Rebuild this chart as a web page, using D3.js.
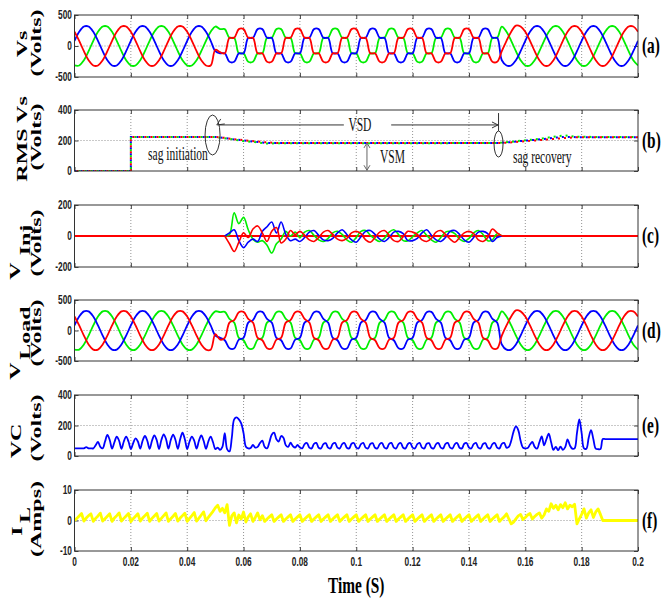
<!DOCTYPE html>
<html><head><meta charset="utf-8">
<script src="https://cdn.jsdelivr.net/npm/d3@7"></script>
<style>body{margin:0;background:#fff}</style>
</head><body>
<svg id="chart" width="661" height="601"></svg>
<script>
// ---------------- DATA ----------------
const stepV = 1/600;   // sample step (s) for Vs, VInj, VLoad
const stepF = 1/1200;  // sample step (s) for VC, IL
const xTicks = [0,0.02,0.04,0.06,0.08,0.1,0.12,0.14,0.16,0.18,0.2];
const xTickLabels = ["0","0.02","0.04","0.06","0.08","0.1","0.12","0.14","0.16","0.18","0.2"];

// supply voltage, healthy parts (before sag: samples 0..30, after sag: 91..120)
const srcRedPre = [230,84,-84,-230,-314,-314,-230,-84,84,230,314,314,
  230,84,-84,-230,-314,-314,-230,-84,84,230,314,314,
  230,84,-84,-230,-314,-314,-60];
const srcBluePre = [84,230,314,314,230,84,-84,-230,-314,-314,-230,-84,
  84,230,314,314,230,84,-84,-230,-314,-314,-230,-84,
  84,230,314,314,230,84,-84];
const srcGreenPre = [-314,-314,-230,-84,84,230,314,314,230,84,-84,-230,
  -314,-314,-230,-84,84,230,314,314,230,84,-84,-230,
  -314,-314,-230,-84,84,230,314];
const srcRedPost = [-84,84,230,330,314,
  230,84,-84,-230,-314,-314,-230,-84,84,230,314,314,
  230,84,-84,-230,-314,-314,-230,-84,84,230,314,314,230];
const srcBluePost = [-230,-314,-314,-230,-84,
  84,230,314,314,230,84,-84,-230,-314,-314,-230,-84,
  84,230,314,314,230,84,-84,-230,-314,-314,-230,-84,84];
const srcGreenPost = [314,230,84,-84,-230,
  -314,-314,-230,-84,84,230,314,314,230,84,-84,-230,
  -314,-314,-230,-84,84,230,314,314,230,84,-84,-230,-314];

// supply voltage during sag (samples 31..90)
const vsRedSag = [-100,-118,132,132,272,272,132,132,-118,-118,-255,-255,
  -118,-118,132,132,272,272,132,132,-118,-118,-255,-255,
  -118,-118,132,132,272,272,132,132,-118,-118,-255,-255,
  -118,-118,132,132,272,272,132,132,-118,-118,-255,-255,
  -118,-118,132,132,272,272,132,132,-118,-118,-255,-255];
const vsBlueSag = [-118,-118,-255,-255,-118,-118,132,132,272,272,132,132,
  -118,-118,-255,-255,-118,-118,132,132,272,272,132,132,
  -118,-118,-255,-255,-118,-118,132,132,272,272,132,132,
  -118,-118,-255,-255,-118,-118,132,132,272,272,132,132,
  -118,-118,-255,-255,-118,-118,132,132,272,272,132,132];
const vsGreenSag = [272,272,132,132,-118,-118,-255,-255,-118,-118,132,132,
  272,272,132,132,-118,-118,-255,-255,-118,-118,132,132,
  272,272,132,132,-118,-118,-255,-255,-118,-118,132,132,
  272,272,132,132,-118,-118,-255,-255,-118,-118,132,132,
  272,272,132,132,-118,-118,-255,-255,-118,-118,132,132];

// load voltage during sag (samples 31..90)
const vlRedSag = [-150,-120,130,170,300,305,190,130,-120,-160,-290,-295,
  -150,-120,130,170,300,305,190,130,-120,-160,-290,-295,
  -150,-120,130,170,300,305,190,130,-120,-160,-290,-295,
  -150,-120,130,170,300,305,190,130,-120,-160,-290,-295,
  -150,-120,130,170,300,305,190,130,-120,-160,-290,-295];
const vlBlueSag = [-120,-160,-290,-295,-150,-120,130,170,300,305,190,130,
  -120,-160,-290,-295,-150,-120,130,170,300,305,190,130,
  -120,-160,-290,-295,-150,-120,130,170,300,305,190,130,
  -120,-160,-290,-295,-150,-120,130,170,300,305,190,130,
  -120,-160,-290,-295,-150,-120,130,170,300,305,190,130];
const vlGreenSag = [300,305,190,130,-120,-160,-290,-295,-150,-120,130,170,
  300,305,190,130,-120,-160,-290,-295,-150,-120,130,170,
  300,305,190,130,-120,-160,-290,-295,-150,-120,130,170,
  300,305,190,130,-120,-160,-290,-295,-150,-120,130,170,
  300,305,190,130,-120,-160,-290,-295,-150,-120,130,170];

// injected voltage (samples 32..91), zero elsewhere
const vinjStart = 32;
const vinjRed = [0,-50,-100,-40,20,-10,45,65,20,-35,30,55,-45,-20,35,10,
  30,5,-25,-35,-10,25, 35,10,-20,-30,-15,20, 30,15,-25,-40,-10,25,
  35,5,-30,-35,-5,30, 25,10,-25,-35,-15,25, 35,10,-20,-40,-10,20,
  30,15,-25,-35,-10,45, 20,0];
const vinjBlue = [0,20,40,-30,-75,-40,-20,-35,30,60,90,20,90,10,-30,-20,
  -35,-10,25,35,5,-25, -30,-15,20,40,10,-25, -40,-5,30,35,10,-20,
  -35,-10,25,30,15,-30, -30,-15,20,40,5,-25, -35,-10,30,35,10,-25,
  -40,-10,25,30,15,-35, -10,0];
const vinjGreen = [0,10,150,80,120,40,-20,-40,-30,-60,-110,-50,-20,30,0,25,
  -10,25,35,5,-25,-35, -15,20,30,10,-25,-40, -10,30,35,5,-20,-35,
  -15,25,40,10,-30,-30, -5,20,35,5,-25,-40, -10,25,30,15,-20,-35,
  -15,20,35,10,-30,-25, 15,0];

// RMS of supply voltage
const rmsTime  = [0,0.02,0.02,0.05,0.053,0.056,0.06,0.064,0.068,0.072,0.15,0.154,0.158,0.162,0.166,0.17,0.174,0.178,0.2];
const rmsRed   = [0,0,223,223,218,210,202,195,188,183,183,186,192,198,204,210,216,221,222];
const rmsGreen = [0,0,223,223,216,208,196,190,180,182,183,190,198,205,213,225,234,224,223];
const rmsBlue  = [0,0,223,223,217,209,200,192,184,183,183,188,196,202,209,218,224,222,222];

// capacitor voltage VC (samples 0..240)
const vcValues = [50,50,50,50,50,58,50,50,50,70,
  92,60,50,
  95,138,105,48, 90,127,100,47, 95,127,95,46, 85,116,95,48,
  100,131,100,47, 100,135,105,46, 105,142,110,48, 105,140,105,47,
  110,153,110,46, 95,127,100,48, 100,135,100,47, 95,127,90,45,
  55,40,60,150,45,30,
  120,240,253,240,214,150,61,50,52,
  72,55,60,85,100,60,50,90,140,153,110,95,131,120,70,60,87,65,55,72,55,
  50,78,85,55, 50,80,86,54, 50,78,84,55, 50,79,86,55, 50,78,85,54, 50,80,85,55,
  50,78,86,55, 50,79,84,54, 50,78,85,55, 50,80,86,55, 50,78,85,54, 50,79,85,55,
  50,78,86,55, 50,80,84,54, 50,78,85,55, 50,79,86,55, 50,78,85,54, 50,80,85,55,
  50,78,86,55, 50,79,84,54, 50,78,85,55, 50,80,86,55,
  60,100,160,194,170,100,55,50,52,75,92,60,48,90,129,70,110,146,90,
  40,60,38,62,40,58,
  109,70,48,50,150,240,150,50,48,120,170,110,48,45,45,
  111,111,111,111,111,111,111,111,111,111,111,111,111,111,111,111];

// load current IL (samples 0..240)
const ilValues = [0,0.7,1.5,2.3, -0.2,0.8,1.6,2.2, -0.3,0.7,1.5,2.4, -0.2,0.6,1.4,2.2,
  -0.3,0.8,1.6,2.5, -0.2,0.7,1.5,2.3, -0.4,0.6,1.4,2.2, -0.2,0.8,1.6,2.4,
  -0.3,0.7,1.5,2.3, -0.2,0.7,1.6,2.5, -0.3,0.6,1.4,2.3, -0.2,0.8,1.6,2.4,
  -0.3,0.7,1.6,2.6, -0.2,0.8,1.8,2.8, -0.1,1.0,2.0,3.0,
  4.2,5.0,3.0,4.0,2.5,5.2,-1.6,
  1.5,2.5,-0.8,1.8,0.5,2.8,-0.5,1.2,2.2,-0.3,1.0,2.5,0.2,1.6,
  -0.3,0.5,1.2,1.9, -0.3,0.5,1.2,1.9, -0.3,0.5,1.2,1.9, -0.3,0.5,1.2,1.9, -0.3,0.5,1.2,1.9,
  -0.3,0.5,1.2,1.9, -0.3,0.5,1.2,1.9, -0.3,0.5,1.2,1.9, -0.3,0.5,1.2,1.9, -0.3,0.5,1.2,1.9,
  -0.3,0.5,1.2,1.9, -0.3,0.5,1.2,1.9, -0.3,0.5,1.2,1.9, -0.3,0.5,1.2,1.9, -0.3,0.5,1.2,1.9,
  -0.3,0.5,1.2,1.9, -0.3,0.5,1.2,1.9, -0.3,0.5,1.2,1.9, -0.3,0.5,1.2,1.9, -0.3,0.5,1.2,1.9,
  -0.3,0.5,1.2,1.9, -0.3,0.5,1.2,1.9, -0.3,0.5,1.2,1.9, -0.3,0.5,1.2,1.9, -0.3,0.5,1.2,1.9,
  -0.3,0.5,
  1.2,2.2,0.5,-1.1,
  -0.5,0.5,1.5,2.0,0.3,1.0,1.8,2.3,0.5,1.3,2.0,2.5,0.8,1.8,3.8,
  3.0,5.5,4.0,5.0,3.5,5.2,4.2,5.8,3.8,5.0,4.5,5.3,
  -1.1,
  0.5,2.0,3.8,0.8,2.5,3.5,1.0,2.8,3.8,2.0,
  0,0,0,0,0,0,0,0,0,0,0,0,0,0,0,0];

// ---------------- CHART ----------------
const SQ = 0.64; // horizontal squeeze of all text (as in the reference)
const svg = d3.select("#chart");
const x = d3.scaleLinear().domain([0,0.2]).range([74.5,638]);

const panels = [
  {id:"a", top:15, bottom:77, dom:[-500,500], yt:[-500,0,500], grid:0,
   labels:[{t:"Vs",bx:27,cy:44},{t:"(Volts)",bx:41,cy:43}]},
  {id:"b", top:110, bottom:171, dom:[0,400], yt:[0,200,400], grid:200,
   labels:[{t:"RMS Vs",bx:27,cy:139},{t:"(Volts)",bx:41,cy:137}]},
  {id:"c", top:205, bottom:267, dom:[-200,200], yt:[-200,0,200], grid:0,
   labels:[{t:"V",bx:20,cy:271},{t:"Inj",bx:30,cy:240},{t:"(Volts)",bx:41,cy:243}]},
  {id:"d", top:300, bottom:361, dom:[-500,500], yt:[-500,0,500], grid:0,
   labels:[{t:"V",bx:20,cy:371},{t:"Load",bx:30,cy:333},{t:"(Volts)",bx:41,cy:333}]},
  {id:"e", top:395, bottom:456, dom:[0,400], yt:[0,200,400], grid:200,
   labels:[{t:"VC",bx:21,cy:441},{t:"(Volts)",bx:41,cy:428}]},
  {id:"f", top:490, bottom:551, dom:[-10,10], yt:[-10,0,10], grid:0,
   labels:[{t:"I",bx:22,cy:531},{t:"L",bx:30,cy:515},{t:"(Amps)",bx:41,cy:519}]}
];
panels.forEach(p => { p.y = d3.scaleLinear().domain(p.dom).range([p.bottom, p.top]); });
const P = Object.fromEntries(panels.map(p => [p.id, p]));

const serif = "'Liberation Serif','Times New Roman',serif";
const sans = "'Liberation Sans',Arial,sans-serif";

panels.forEach(p => {
  const g = svg.append("g");
  g.selectAll("line.vg").data(xTicks.slice(1,-1)).enter().append("line")
    .attr("x1", d=>x(d)).attr("x2", d=>x(d)).attr("y1", p.top).attr("y2", p.bottom)
    .attr("stroke","#777").attr("stroke-width",0.8).attr("stroke-dasharray","1,2");
  g.append("line").attr("x1",x(0)).attr("x2",x(0.2)).attr("y1",p.y(p.grid)).attr("y2",p.y(p.grid))
    .attr("stroke","#777").attr("stroke-width",0.8).attr("stroke-dasharray","1,2");
  const axes = [
    [d3.axisBottom(x).tickValues(xTicks), `translate(0,${p.bottom})`],
    [d3.axisTop(x).tickValues(xTicks), `translate(0,${p.top})`],
    [d3.axisLeft(p.y).tickValues(p.yt), `translate(${x(0)},0)`],
    [d3.axisRight(p.y).tickValues(p.yt), `translate(${x(0.2)},0)`]
  ];
  axes.forEach(([ax, tr]) => {
    const a = g.append("g").attr("transform", tr).call(ax.tickSizeInner(-4).tickSizeOuter(0).tickFormat(""));
    a.select(".domain").remove();
    a.selectAll("line").attr("stroke","#444");
    a.selectAll("text").remove();
  });
  g.selectAll("text.yl").data(p.yt).enter().append("text")
    .attr("transform", d => `translate(72,${p.y(d)+4}) scale(${SQ},1)`)
    .attr("text-anchor","end").attr("font-family",sans).attr("font-size",13).attr("font-weight","bold")
    .attr("fill","#222").text(d => d);
  p.labels.forEach(l => {
    g.append("text")
      .attr("transform", `translate(${l.bx},${l.cy}) scale(${SQ},1) rotate(-90)`)
      .attr("text-anchor","middle").attr("font-family",serif).attr("font-weight","bold")
      .attr("font-size",24).text(l.t);
  });
  g.append("text").attr("transform", `translate(642,${(p.top+p.bottom)/2+7}) scale(${SQ},1)`)
    .attr("font-family",serif).attr("font-weight","bold").attr("font-size",24).text(`(${p.id})`);
  p.g = g;
});

P.f.g.selectAll("text.xl").data(xTicks).enter().append("text")
  .attr("transform", (d,i) => `translate(${x(d)},566) scale(${SQ},1)`)
  .attr("text-anchor","middle").attr("font-family",sans).attr("font-size",13).attr("font-weight","bold")
  .attr("fill","#222").text((d,i) => xTickLabels[i]);
svg.append("text").attr("transform", `translate(${x(0.1)},593) scale(${SQ},1)`)
  .attr("text-anchor","middle").attr("font-family",serif).attr("font-weight","bold")
  .attr("font-size",24).text("Time (S)");

panels.forEach(p => {
  svg.append("clipPath").attr("id","clip"+p.id).append("rect")
    .attr("x",x(0)).attr("y",p.top).attr("width",x(0.2)-x(0)).attr("height",p.bottom-p.top);
});

function sampled(p, values, step, start, color, width, curve) {
  const line = d3.line().x((d,i) => x((start+i)*step)).y(d => p.y(d)).curve(curve || d3.curveLinear);
  svg.append("path").attr("clip-path",`url(#clip${p.id})`).datum(values)
    .attr("d", line).attr("fill","none").attr("stroke",color).attr("stroke-width",width)
    .attr("stroke-linejoin","round");
}
const RED="#ff0000", GREEN="#00ee00", BLUE="#0000ff", YELLOW="#ffff00";
const cr = d3.curveCatmullRom;

// (a) supply voltage
const aRed = srcRedPre.concat(vsRedSag, srcRedPost);
const aBlue = srcBluePre.concat(vsBlueSag, srcBluePost);
const aGreen = srcGreenPre.concat(vsGreenSag, srcGreenPost);
sampled(P.a, aGreen, stepV, 0, GREEN, 1.8, cr);
sampled(P.a, aBlue, stepV, 0, BLUE, 1.8, cr);
sampled(P.a, aRed, stepV, 0, RED, 1.8, cr);

// (b) RMS
[[rmsBlue,BLUE,0],[rmsGreen,GREEN,2],[rmsRed,RED,4]].forEach(([vals,col,off]) => {
  const line = d3.line().x((d,i)=>x(rmsTime[i])).y(d=>P.b.y(d));
  svg.append("path").attr("clip-path","url(#clipb)").datum(vals).attr("d",line)
    .attr("fill","none").attr("stroke",col).attr("stroke-width",2)
    .attr("stroke-dasharray","2,4").attr("stroke-dashoffset",off);
});
const yb = P.b.y;
const ann = svg.append("g").attr("stroke","#333").attr("fill","none").attr("stroke-width",1);
ann.append("ellipse").attr("cx",x(0.049)).attr("cy",yb(236)).attr("rx",7.5).attr("ry",20);
ann.append("ellipse").attr("cx",x(0.1505)).attr("cy",yb(177)).attr("rx",4.5).attr("ry",13);
ann.append("line").attr("x1",x(0.0512)).attr("x2",x(0.0956)).attr("y1",yb(302)).attr("y2",yb(302));
ann.append("line").attr("x1",x(0.1124)).attr("x2",x(0.1503)).attr("y1",yb(302)).attr("y2",yb(302));
ann.append("line").attr("x1",x(0.1505)).attr("x2",x(0.1505)).attr("y1",yb(380)).attr("y2",yb(262));
ann.append("path").attr("d",`M${x(0.1503)-6},${yb(302)-3}L${x(0.1503)},${yb(302)}L${x(0.1503)-6},${yb(302)+3}`);
ann.append("path").attr("d",`M${x(0.0512)+2},${yb(302)-6}L${x(0.0505)},${yb(302)}L${x(0.0512)+6},${yb(302)-1}`);
const vsmX = x(0.1038);
ann.append("line").attr("x1",vsmX).attr("x2",vsmX).attr("y1",yb(184)).attr("y2",yb(5)).attr("stroke","#666");
ann.append("path").attr("stroke","#666").attr("d",`M${vsmX-3},${yb(184)+5}L${vsmX},${yb(184)}L${vsmX+3},${yb(184)+5}`);
ann.append("path").attr("stroke","#666").attr("d",`M${vsmX-3},${yb(5)-5}L${vsmX},${yb(5)}L${vsmX+3},${yb(5)-5}`);
const annText = [
  {t:"VSD", tt:0.1013, v:262, anchor:"middle"},
  {t:"VSM", tt:0.1084, v:52, anchor:"start"},
  {t:"sag initiation", tt:0.0261, v:72, anchor:"start"},
  {t:"sag recovery", tt:0.1556, v:52, anchor:"start"}
];
annText.forEach(a => {
  svg.append("text").attr("transform",`translate(${x(a.tt)},${yb(a.v)}) scale(${SQ},1)`)
    .attr("text-anchor",a.anchor).attr("font-family",serif).attr("font-size",18).attr("fill","#111").text(a.t);
});

// (c) injected voltage
sampled(P.c, [0,0], 0.2, 0, RED, 1.8);
sampled(P.c, vinjGreen, stepV, vinjStart, GREEN, 1.6, cr);
sampled(P.c, vinjBlue, stepV, vinjStart, BLUE, 1.6, cr);
sampled(P.c, vinjRed, stepV, vinjStart, RED, 1.6, cr);

// (d) load voltage
const dRed = srcRedPre.concat(vlRedSag, srcRedPost);
const dBlue = srcBluePre.concat(vlBlueSag, srcBluePost);
const dGreen = srcGreenPre.concat(vlGreenSag, srcGreenPost);
sampled(P.d, dGreen, stepV, 0, GREEN, 1.8, cr);
sampled(P.d, dBlue, stepV, 0, BLUE, 1.8, cr);
sampled(P.d, dRed, stepV, 0, RED, 1.8, cr);

// (e) VC
sampled(P.e, vcValues, stepF, 0, BLUE, 1.8, cr);
// (f) IL
sampled(P.f, ilValues, stepF, 0, YELLOW, 2.8);

panels.forEach(p => {
  svg.append("rect").attr("x",x(0)).attr("y",p.top).attr("width",x(0.2)-x(0)).attr("height",p.bottom-p.top)
    .attr("fill","none").attr("stroke","#333").attr("stroke-width",1);
});
</script>
</body></html>
